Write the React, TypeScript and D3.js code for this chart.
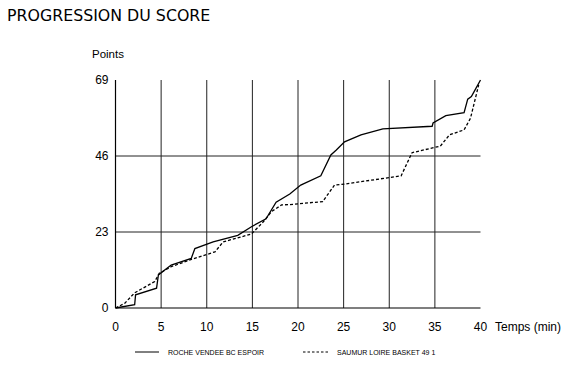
import React from "react";
import * as d3 from "d3";

const rocheT = [0, 2.1, 2.2, 4.5, 4.7, 6.1, 8.3, 8.7, 10.7, 13.4, 14.9, 16.5, 17.6, 19.1, 20.3, 22.5, 23.6, 24.2, 25.1, 26.9, 29.3, 34.7, 34.8, 36.2, 38.2, 38.6, 39.0, 39.3, 40];
const rocheP = [0, 1, 4, 6, 10, 13, 15, 18, 20, 22, 24.6, 27, 32, 34.5, 37.2, 40, 46.3, 47.8, 50.3, 52.4, 54.2, 55, 56, 58.2, 59.1, 63.2, 64, 65.5, 69];
const saumurT = [0, 1.0, 2.1, 4.3, 4.8, 6.1, 8.1, 10.9, 11.8, 14.9, 16.2, 17.1, 18.2, 19.1, 22.7, 24.0, 25.1, 31.3, 32.5, 35.6, 36.6, 38.2, 38.9, 39.8];
const saumurP = [0, 1.4, 4.6, 8, 10.5, 12.5, 14.5, 17, 20, 22.4, 26.1, 29.2, 31.2, 31.3, 32.2, 37.2, 37.5, 40, 47, 49, 52.4, 53.9, 57.4, 67.5];
const xTicks = [0, 5, 10, 15, 20, 25, 30, 35, 40];
const yTicks = [0, 23, 46, 69];
const seriesNames = ["ROCHE VENDEE BC ESPOIR", "SAUMUR LOIRE BASKET 49 1"];

export default function App() {
  const W = 569, H = 368;
  const x = d3.scaleLinear().domain([0, 40]).range([115.5, 480.5]);
  const y = d3.scaleLinear().domain([0, 69]).range([308, 80]);
  const line = d3.line<[number, number]>().x(d => x(d[0])).y(d => y(d[1]));
  const roche = rocheT.map((t, i) => [t, rocheP[i]] as [number, number]);
  const saumur = saumurT.map((t, i) => [t, saumurP[i]] as [number, number]);
  const font = "'Liberation Sans', Arial, sans-serif";
  return (
    <svg width={W} height={H} style={{ position: "absolute", left: 0, top: 0, background: "#fff" }}>
      <text x={7} y={21} fontFamily="'DejaVu Sans', sans-serif" fontSize={15.8} fill="#000">PROGRESSION DU SCORE</text>
      <text x={92} y={58.3} fontFamily={font} fontSize={11.5} fill="#000">Points</text>
      {xTicks.filter(t => t > 0 && t < 40).map(t => (
        <line key={"vx" + t} x1={x(t)} x2={x(t)} y1={y(69)} y2={y(0)} stroke="#222" strokeWidth={1} />
      ))}
      {yTicks.filter(t => t > 0 && t < 69).map(t => (
        <line key={"hy" + t} x1={x(0)} x2={x(40)} y1={y(t)} y2={y(t)} stroke="#222" strokeWidth={1} />
      ))}
      <line x1={x(0)} x2={x(0)} y1={y(69)} y2={y(0)} stroke="#000" strokeWidth={1.2} />
      <line x1={x(0)} x2={x(40)} y1={y(0)} y2={y(0)} stroke="#000" strokeWidth={1.2} />
      {yTicks.map(t => (
        <text key={"yl" + t} x={108.5} y={y(t) + 4.3} textAnchor="end" fontFamily={font} fontSize={12} fill="#000">{t}</text>
      ))}
      {xTicks.map(t => (
        <text key={"xl" + t} x={x(t)} y={330.5} textAnchor="middle" fontFamily={font} fontSize={12} fill="#000">{t}</text>
      ))}
      <text x={495} y={330.5} fontFamily={font} fontSize={12} fill="#000">Temps (min)</text>
      <path d={line(saumur) || ""} fill="none" stroke="#000" strokeWidth={1.3} strokeDasharray="3,2" />
      <path d={line(roche) || ""} fill="none" stroke="#000" strokeWidth={1.3} />
      <line x1={135} x2={159} y1={352} y2={352} stroke="#000" strokeWidth={1} />
      <text x={168} y={354.5} fontFamily={font} fontSize={7} fill="#000">{seriesNames[0]}</text>
      <line x1={303} x2={328} y1={352} y2={352} stroke="#000" strokeWidth={1} strokeDasharray="2.5,2" />
      <text x={337} y={354.5} fontFamily={font} fontSize={7} fill="#000">{seriesNames[1]}</text>
    </svg>
  );
}
